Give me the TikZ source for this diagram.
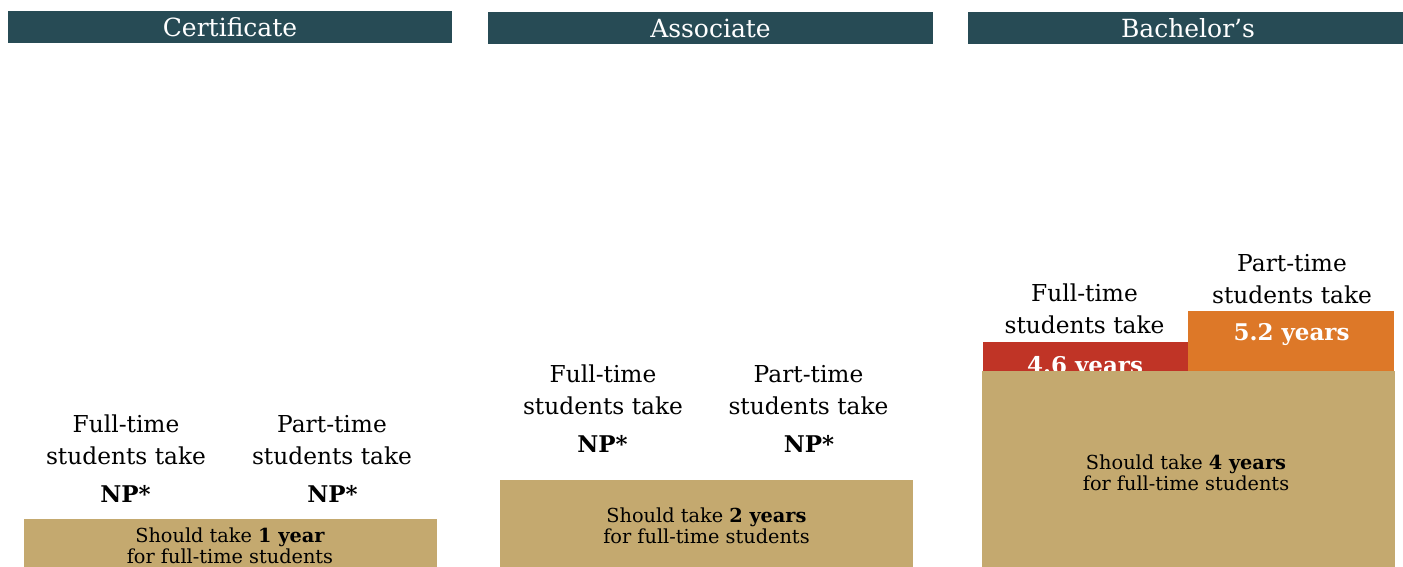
\documentclass[tikz,border=0pt]{standalone}
\usepackage{fontspec}
\setmainfont{DejaVu Serif}
\definecolor{headteal}{RGB}{39,75,85}
\definecolor{tanbase}{RGB}{196,169,111}
\definecolor{fullred}{RGB}{192,52,38}
\definecolor{partorange}{RGB}{221,120,40}

\begin{document}
\begin{tikzpicture}[x=1pt,y=-1pt,
    head/.style={fill=headteal,text=white,minimum height=32pt,inner sep=0pt,
        text height=19pt,text depth=0pt,font=\fontsize{25}{30}\selectfont},
    lbl/.style={align=center,inner sep=0pt,font=\fontsize{23.3}{32}\selectfont},
    np/.style={inner sep=0pt,anchor=base,font=\fontsize{23}{26}\selectfont\bfseries},
    yrs/.style={inner sep=0pt,anchor=base,text=white,font=\fontsize{23}{26}\selectfont\bfseries},
    bar/.style={inner sep=0pt,anchor=north west},
    note/.style={align=center,inner sep=0pt,font=\fontsize{19.3}{20.5}\selectfont}]
\useasboundingbox (0,0) rectangle (1403,567);

% column headers
\foreach \n/\x/\y/\w/\t in {cert/230/27/444/Certificate,
                            assoc/710.5/28/445/Associate,
                            bach/1188/28/440/Bachelor’s}
    \node[head,minimum width=\w pt] (\n) at (\x,\y) {\t};

% certificate
\node[lbl] (cfull) at (126,440) {Full-time\\students take};
\node[lbl] (cpart) at (332,440) {Part-time\\students take};
\node[np] (cfullnp) at (125.5,502) {NP*};
\node[np] (cpartnp) at (332.5,502) {NP*};

% associate
\node[lbl] (afull) at (603,390) {Full-time\\students take};
\node[lbl] (apart) at (808.5,390) {Part-time\\students take};
\node[np] (afullnp) at (602.5,452) {NP*};
\node[np] (apartnp) at (809,452) {NP*};

% bachelor's
\node[lbl] (bfull) at (1084.5,309) {Full-time\\students take};
\node[lbl] (bpart) at (1292,279) {Part-time\\students take};
\node[bar,fill=fullred,minimum width=205pt,minimum height=29pt] (redbar) at (983,342) {};
\node[bar,fill=partorange,minimum width=206pt,minimum height=60pt] (orangebar) at (1188,311) {};
\node[yrs] (fullyrs) at (1085,373) {4.6 years};
\node[yrs] (partyrs) at (1291.5,340) {5.2 years};

% expected time
\node[bar,fill=tanbase,minimum width=413pt,minimum height=52pt] (cbase) at (24,519) {};
\node[bar,fill=tanbase,minimum width=413pt,minimum height=90pt] (abase) at (500,480) {};
\node[bar,fill=tanbase,minimum width=413pt,minimum height=200pt] (bbase) at (982,371) {};
\node[note] (cnote) at (230,546) {Should take \textbf{1 year}\\for full-time students};
\node[note] (anote) at (706.5,526) {Should take \textbf{2 years}\\for full-time students};
\node[note] (bnote) at (1186,473) {Should take \textbf{4 years}\\for full-time students};
\end{tikzpicture}
\end{document}
